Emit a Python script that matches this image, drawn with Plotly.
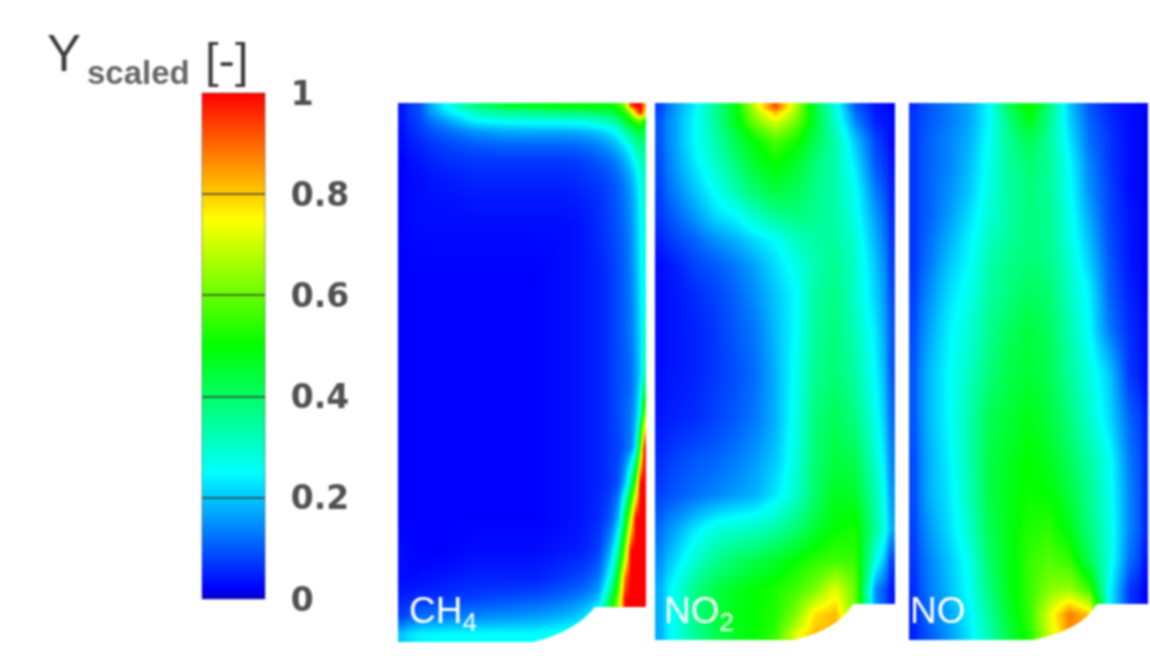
import plotly.graph_objects as go

# Cell edges of the three sampled fields (reference pixel frame)
ch4_x = [398, 408, 430, 460, 490, 520, 550, 575, 592, 605, 615, 622, 628, 633, 638, 642, 646]
ch4_y = [103, 108, 116, 126, 138, 152, 170, 200, 250, 300, 350, 395, 430, 465, 500, 535, 565, 590, 607, 625, 642]
no2_x = [655, 666, 685, 705, 725, 745, 765, 785, 805, 825, 845, 865, 885, 895]
no_x = [909, 920, 939, 959, 979, 999, 1019, 1039, 1059, 1079, 1099, 1119, 1139, 1148]
shared_y = [103, 112, 130, 152, 177, 202, 227, 252, 277, 310, 350, 395, 440, 477, 512, 545, 575, 602, 626, 640]

ch4_z = [
    [.04, .09, .25, .38, .45, .48, .50, .50, .50, .50, .55, .65, .95, 1, 1, .85],
    [.04, .09, .22, .32, .36, .37, .39, .40, .42, .44, .48, .55, .65, .85, 1, .80],
    [.04, .08, .16, .24, .26, .27, .27, .28, .30, .33, .37, .45, .50, .55, .60, .50],
    [.03, .07, .11, .15, .17, .17, .17, .18, .20, .23, .27, .33, .38, .42, .45, .40],
    [.03, .05, .08, .10, .11, .11, .11, .12, .14, .17, .20, .24, .28, .33, .38, .35],
    [.02, .04, .06, .07, .07, .07, .07, .08, .10, .12, .15, .18, .22, .26, .32, .32],
    [.02, .03, .04, .05, .05, .05, .05, .06, .07, .09, .11, .14, .17, .21, .27, .30],
    [.02, .03, .03, .03, .03, .03, .03, .04, .06, .08, .10, .12, .15, .19, .25, .28],
    [.02, .02, .02, .02, .02, .02, .03, .04, .05, .07, .09, .11, .14, .18, .24, .27],
    [.02, .02, .02, .02, .02, .02, .03, .04, .05, .07, .09, .11, .13, .17, .23, .28],
    [.02, .02, .02, .02, .02, .02, .03, .04, .05, .07, .09, .10, .12, .16, .22, .32],
    [.02, .02, .02, .02, .02, .02, .03, .04, .05, .07, .09, .11, .13, .18, .30, .60],
    [.02, .02, .02, .02, .02, .02, .03, .04, .05, .07, .08, .11, .14, .24, .60, .98],
    [.02, .02, .02, .02, .02, .02, .03, .04, .05, .07, .10, .20, .37, .60, 1, 1],
    [.02, .02, .02, .02, .02, .02, .03, .04, .06, .10, .20, .45, .70, 1, 1, 1],
    [.03, .02, .02, .03, .03, .03, .04, .05, .08, .18, .37, .65, 1, 1, 1, 1],
    [.03, .03, .04, .05, .05, .05, .07, .09, .13, .28, .55, .90, 1, 1, 1, 1],
    [.05, .06, .07, .08, .09, .10, .12, .15, .20, .43, .67, 1, 1, 1, 1, 1],
    [.08, .12, .13, .14, .15, .16, .18, .22, .30, .50, .72, 1, 1, 1, 1, 1],
    [.20, .24, .25, .25, .25, .25, .27, .30, .30, .50, .72, 1, 1, 1, 1, 1],
]

no2_z = [
    [.08, .16, .24, .36, .48, .70, .92, .68, .44, .28, .10, .04, .02],
    [.10, .17, .25, .35, .47, .62, .72, .62, .45, .30, .14, .05, .03],
    [.10, .17, .25, .33, .42, .50, .57, .52, .42, .33, .20, .08, .03],
    [.09, .16, .23, .30, .38, .46, .50, .46, .38, .33, .23, .10, .04],
    [.08, .14, .20, .26, .33, .40, .44, .42, .37, .33, .26, .13, .05],
    [.07, .11, .16, .22, .25, .31, .36, .38, .36, .34, .27, .16, .06],
    [.05, .08, .11, .15, .18, .22, .25, .31, .34, .34, .29, .18, .07],
    [.03, .05, .08, .10, .13, .17, .22, .27, .33, .36, .30, .20, .08],
    [.03, .04, .06, .08, .11, .15, .20, .25, .34, .37, .30, .21, .09],
    [.03, .04, .05, .07, .10, .13, .19, .25, .35, .38, .32, .23, .10],
    [.03, .04, .05, .07, .09, .12, .18, .26, .36, .39, .34, .25, .10],
    [.04, .05, .06, .08, .10, .13, .18, .27, .38, .42, .37, .27, .12],
    [.06, .08, .10, .11, .13, .16, .20, .28, .39, .44, .42, .30, .14],
    [.08, .10, .12, .14, .16, .18, .23, .30, .40, .47, .46, .33, .16],
    [.12, .17, .23, .28, .30, .31, .34, .39, .45, .50, .52, .35, .18],
    [.15, .22, .30, .36, .40, .43, .46, .50, .54, .56, .55, .28, .08],
    [.18, .27, .37, .43, .47, .50, .52, .56, .62, .72, .60, .15, .04],
    [.18, .27, .37, .44, .48, .50, .53, .62, .78, .82, .60, .15, .04],
    [.18, .27, .35, .42, .47, .50, .55, .72, .82, .82, .60, .15, .04],
]

no_z = [
    [.06, .10, .13, .17, .25, .42, .52, .38, .20, .10, .05, .03, .02],
    [.07, .10, .13, .17, .25, .38, .48, .36, .21, .11, .06, .03, .02],
    [.07, .11, .14, .18, .26, .36, .42, .35, .23, .12, .07, .03, .02],
    [.07, .11, .14, .19, .27, .35, .39, .35, .25, .14, .07, .03, .02],
    [.07, .11, .15, .20, .28, .34, .38, .35, .26, .15, .08, .03, .02],
    [.07, .11, .16, .22, .29, .34, .38, .36, .27, .17, .08, .04, .02],
    [.07, .12, .18, .24, .31, .35, .38, .36, .28, .19, .09, .04, .02],
    [.07, .13, .20, .25, .33, .37, .39, .37, .30, .21, .10, .04, .02],
    [.08, .15, .22, .27, .34, .38, .41, .39, .31, .24, .11, .05, .02],
    [.09, .17, .24, .29, .36, .41, .44, .41, .33, .25, .13, .06, .03],
    [.10, .19, .25, .31, .38, .43, .45, .42, .35, .28, .20, .07, .03],
    [.10, .19, .25, .33, .42, .45, .48, .44, .38, .30, .22, .11, .05],
    [.09, .18, .24, .33, .43, .47, .50, .47, .41, .34, .26, .13, .06],
    [.09, .18, .23, .32, .43, .48, .51, .50, .44, .36, .27, .14, .06],
    [.08, .16, .22, .30, .42, .48, .53, .54, .48, .38, .28, .14, .06],
    [.07, .14, .20, .27, .40, .48, .55, .58, .55, .42, .28, .12, .04],
    [.06, .13, .19, .26, .38, .48, .55, .63, .65, .55, .25, .07, .02],
    [.05, .12, .17, .24, .35, .46, .55, .72, .88, .80, .25, .07, .02],
    [.05, .10, .16, .23, .33, .44, .53, .70, .85, .90, .25, .07, .02],
]

tick_values = [0, 0.2, 0.4, 0.6, 0.8, 1]
tick_labels = ["0", "0.2", "0.4", "0.6", "0.8", "1"]
species = ["CH<sub>4</sub>", "NO<sub>2</sub>", "NO"]

colorscale = [
    [0, "#0000c8"], [0.02, "#0000ff"], [0.25, "#00ffff"],
    [0.5, "#00ff00"], [0.75, "#ffff00"], [1, "#ff0000"],
]

W, H = 1150, 656
fig = go.Figure()
for xs, ys, zs in [(ch4_x, ch4_y, ch4_z), (no2_x, shared_y, no2_z), (no_x, shared_y, no_z)]:
    fig.add_trace(go.Heatmap(x=xs, y=ys, z=zs, coloraxis="coloraxis",
                             zsmooth="best", hoverinfo="skip"))

# Outline of the inlet step that is not part of the domain
steps = [
    "M 648 607 L 595 607 Q 575 632 533 642 L 533 648 L 648 648 Z",
    "M 897 604 L 853 604 Q 838 630 793 640 L 793 648 L 897 648 Z",
    "M 1150 604 L 1097 604 Q 1082 630 1033 640 L 1033 648 L 1150 648 Z",
]
shapes = [dict(type="path", path=p, xref="x", yref="y", fillcolor="white",
               line=dict(width=0), layer="above") for p in steps]

def note(text, x, y, size, color, anchor="left", font="Liberation Sans", weight="normal"):
    return dict(text=text, x=x, y=y, xref="x", yref="y", showarrow=False,
                xanchor=anchor, yanchor="middle",
                font=dict(family=font, size=size, color=color, weight=weight))

annotations = [
    note("Y", 45, 53, 51, "#3c3c3c"),
    note("scaled", 85, 72, 33, "#666666", weight="bold"),
    note("[-]", 203, 60, 49, "#3c3c3c"),
    note(species[0], 407, 613, 37, "white"),
    note(species[1], 662, 613, 37, "white"),
    note(species[2], 908, 610, 37, "white"),
]

fig.update_layout(
    width=W, height=H, autosize=False,
    margin=dict(l=0, r=0, t=0, b=0, pad=0, autoexpand=False),
    paper_bgcolor="white", plot_bgcolor="white",
    xaxis=dict(range=[0, W], visible=False, fixedrange=True, domain=[0, 1]),
    yaxis=dict(range=[H, 0], visible=False, fixedrange=True, domain=[0, 1]),
    shapes=shapes, annotations=annotations, showlegend=False,
    coloraxis=dict(
        cmin=0, cmax=1, colorscale=colorscale,
        colorbar=dict(
            x=202 / W, xanchor="left", xref="container",
            y=(H - 599) / H, yanchor="bottom", yref="container",
            len=506, lenmode="pixels", thickness=63, thicknessmode="pixels",
            xpad=0, ypad=0, outlinewidth=1, outlinecolor="rgba(50,50,50,0.45)",
            tickmode="array", tickvals=tick_values,
            ticktext=["\u00a0\u2009" + t for t in tick_labels],
            ticks="inside", ticklen=63, tickwidth=1.5, tickcolor="rgba(50,50,50,0.7)",
            tickfont=dict(family="DejaVu Sans", size=33, color="#505050", weight="bold"),
        ),
    ),
)
fig.write_html(
    "out.html",
    config={"displayModeBar": False},
    post_script="document.body.style.margin='0';"
                "document.querySelector('.plotly-graph-div').style.filter='blur(0.9px)';",
)
